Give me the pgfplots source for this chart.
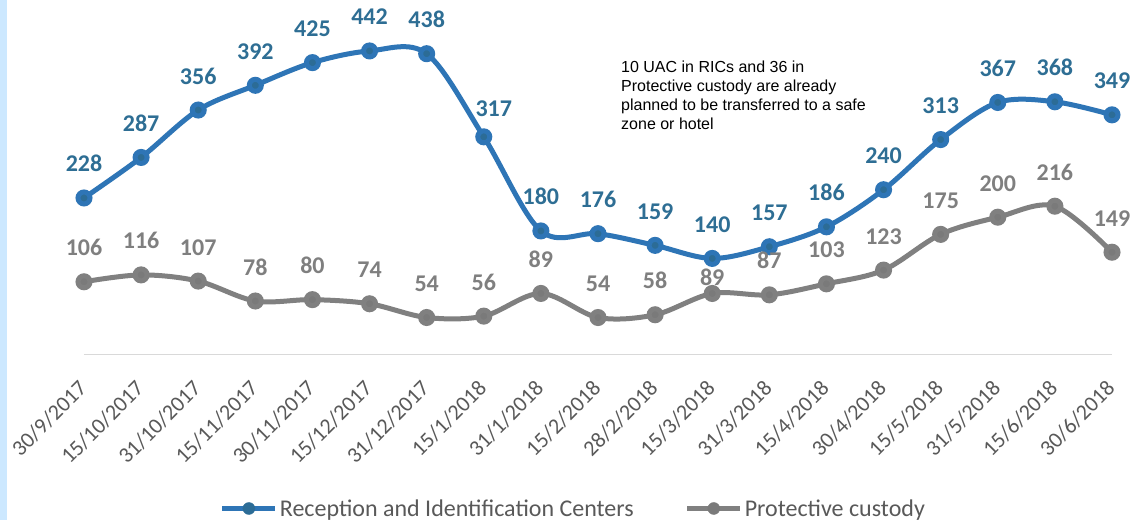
\documentclass[border=0pt]{standalone}
\usepackage{fontspec}
\setmainfont{Carlito}
\newfontfamily\arialf{Liberation Sans}
\usepackage{pgfplots}
\usepackage{pgfplotstable}
\pgfplotsset{compat=1.18}
\definecolor{ricline}{RGB}{46,117,182}
\definecolor{ricmark}{RGB}{44,108,150}
\definecolor{riclab}{RGB}{46,110,148}
\definecolor{pcline}{RGB}{128,128,128}
\definecolor{pcmark}{RGB}{122,122,122}
\definecolor{pclab}{RGB}{127,127,127}
\definecolor{axgray}{RGB}{217,217,217}
\definecolor{txtgray}{RGB}{89,89,89}
\definecolor{strip}{RGB}{204,232,255}

\pgfplotstableread{
x ric rdx rdy pc pdx pdy
0 228 0 26 106 0 26
1 287 0 26 116 0 26
2 356 0 26 107 0 26
3 392 0 26 78 0 26
4 425 0 26 80 0 26
5 442 0 26 74 0 26
6 438 0 26 54 0 26
7 317 10 20 56 0 26
8 180 0 26 89 0 26
9 176 0 26 54 0 26
10 159 0 26 58 0 26
11 140 0 26 89 0 8
12 157 0 26 87 0 26
13 186 0 26 103 0 26
14 240 0 26 123 0 26
15 313 0 26 175 0 26
16 367 0 26 200 0 26
17 368 0 26 216 0 26
18 349 0 26 149 0 26
}\data

\begin{document}
\begin{tikzpicture}
\path[use as bounding box] (0,0) rectangle (1132pt,520pt);
\fill[white] (0,0) rectangle (1132pt,520pt);
\fill[strip] (0,0) rectangle (7pt,520pt);
\begin{axis}[
  at={(84pt,165.4pt)}, anchor=south west,
  scale only axis, width=1028pt, height=343.5pt,
  xmin=0, xmax=18, ymin=0, ymax=500,
  clip=false,
  axis x line=bottom, axis y line=none,
  x axis line style={-, draw=axgray, line width=1.5pt},
  xtick={0,...,18},
  xticklabels={30/9/2017,15/10/2017,31/10/2017,15/11/2017,30/11/2017,15/12/2017,31/12/2017,15/1/2018,31/1/2018,15/2/2018,28/2/2018,15/3/2018,31/3/2018,15/4/2018,30/4/2018,15/5/2018,31/5/2018,15/6/2018,30/6/2018},
  major tick length=0pt,
  xticklabel style={yshift=-30pt, xshift=-1pt, rotate=45, anchor=east, inner sep=0pt, font=\fontsize{22}{26}\selectfont, text=txtgray},
  /pgf/number format/assume math mode=true,
  legend style={at={(axis description cs:0.132,-0.448)}, anchor=west, draw=none, fill=none,
    font=\fontsize{24}{28}\selectfont, text=txtgray, inner sep=0pt,
    /tikz/column 2/.style={column sep=49pt}},
  legend columns=2,
]
\addlegendimage{legend image code/.code={\draw[ricline, line width=5pt] (0pt,0pt) -- (53pt,0pt); \fill[ricmark] (26.5pt,0pt) circle (6pt);}}
\addlegendentry{Reception and Identification Centers}
\addlegendimage{legend image code/.code={\draw[pcline, line width=5pt] (0pt,0pt) -- (53pt,0pt); \fill[pcmark] (26.5pt,0pt) circle (6pt);}}
\addlegendentry{Protective custody}

\addplot[forget plot, ricline, line width=5pt, smooth, tension=0.55,
  mark=*, mark size=6pt, mark options={draw=none, fill=ricmark},
  visualization depends on={\thisrow{rdx}\as\ldx},
  visualization depends on={\thisrow{rdy}\as\ldy},
  point meta=explicit,
  nodes near coords={\pgfmathprintnumber[assume math mode=true]{\pgfplotspointmeta}},
  nodes near coords style={font=\bfseries\fontsize{24}{28}\selectfont, text=riclab, anchor=base, inner sep=0pt, xshift=\ldx pt, yshift=\ldy pt}]
  table[x=x, y=ric, meta=ric] {\data};

\addplot[forget plot, pcline, line width=5pt, smooth, tension=0.55,
  mark=*, mark size=6pt, mark options={draw=none, fill=pcmark},
  visualization depends on={\thisrow{pdx}\as\ldx},
  visualization depends on={\thisrow{pdy}\as\ldy},
  point meta=explicit,
  nodes near coords={\pgfmathprintnumber[assume math mode=true]{\pgfplotspointmeta}},
  nodes near coords style={font=\bfseries\fontsize{24}{28}\selectfont, text=pclab, anchor=base, inner sep=0pt, xshift=\ldx pt, yshift=\ldy pt}]
  table[x=x, y=pc, meta=pc] {\data};
\end{axis}
\node[anchor=north west, align=left, inner sep=0pt, font=\arialf\fontsize{16}{19}\selectfont] at (621pt,459pt)
 {10 UAC in RICs and 36 in\\Protective custody are already\\planned to be transferred to a safe\\zone or hotel};
\end{tikzpicture}
\end{document}
